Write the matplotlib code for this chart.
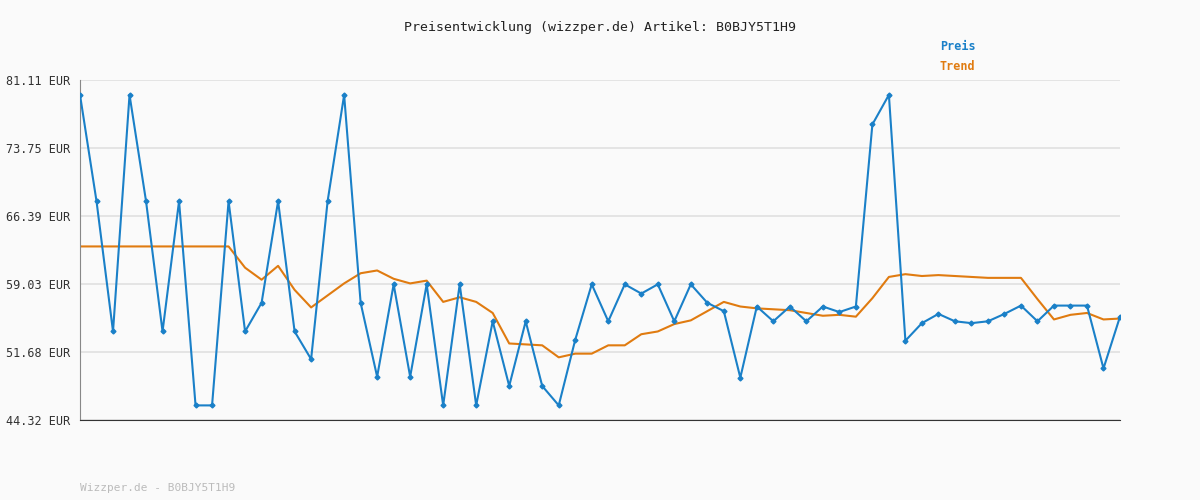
import matplotlib
matplotlib.use("Agg")
import matplotlib.pyplot as plt
import numpy as np

preis = [79.5,68.0,53.9,79.5,68.0,53.9,68.0,45.9,45.9,68.0,53.9,57.0,68.0,53.9,50.9,68.0,79.5,57.0,49.0,59.0,
         49.0,59.0,45.9,59.0,45.9,55.0,48.0,55.0,48.0,45.9,53.0,59.0,55.0,59.0,58.0,59.0,55.0,59.0,57.0,56.1,
         48.9,56.6,55.0,56.6,55.0,56.6,56.0,56.6,76.3,79.5,52.9,54.8,55.8,55.0,54.8,55.0,55.8,56.7,55.0,56.7,
         56.7,56.7,49.9,55.5]
trend = [63.1]*10 + [60.8,59.5,61.0,58.4,56.5,57.8,59.1,60.2,60.5,59.6,59.1,59.4,57.1,57.6,57.1,55.9,52.6,52.5,52.4,51.1,
         51.5,51.5,52.4,52.4,53.6,53.9,54.7,55.1,56.1,57.1,56.6,56.4,56.3,56.2,55.9,55.6,55.7,55.5,57.5,59.8,
         60.1,59.9,60.0,59.9,59.8,59.7,59.7,59.7,57.4,55.2,55.7,55.9,55.2,55.3]
yticks = [44.32, 51.68, 59.03, 66.39, 73.75, 81.11]
ylabels = [f"{v:.2f} EUR" for v in yticks]

mono = "DejaVu Sans Mono"
fig = plt.figure(figsize=(12, 5), dpi=100, facecolor="#fafafa")
ax = fig.add_axes([80/1200, 0.16, 1040/1200, 0.68], facecolor="#fafafa")
x = np.arange(len(preis))
ax.plot(x, trend, color="#e07b10", lw=1.5, zorder=2)
ax.plot(x, preis, color="#1a80c8", lw=1.5, marker="D", ms=2.5, zorder=3)
ax.set_xlim(0, len(preis)-1)
ax.set_ylim(44.32, 81.11)
ax.set_yticks(yticks)
ax.set_yticklabels(ylabels, fontsize=8.5, family=mono, color="#333333")
ax.set_xticks([])
ax.tick_params(axis="y", length=0, pad=7)
ax.grid(axis="y", color="#e0e0e0", lw=1.2)
ax.set_axisbelow(True)
for s in ["top", "right"]:
    ax.spines[s].set_visible(False)
ax.spines["left"].set_color("#888888")
ax.spines["bottom"].set_color("#333333")
fig.text(0.5, 1-28/500, "Preisentwicklung (wizzper.de) Artikel: B0BJY5T1H9", ha="center", va="center",
         fontsize=9.5, family=mono, color="#222222")
fig.text(940/1200, 1-47/500, "Preis", fontsize=8.5, family=mono, color="#1a80c8", fontweight="bold", va="center")
fig.text(940/1200, 1-67/500, "Trend", fontsize=8.5, family=mono, color="#e07b10", fontweight="bold", va="center")
fig.text(80/1200, 1-488/500, "Wizzper.de - B0BJY5T1H9", fontsize=8, family=mono, color="#bbbbbb", va="center")
fig.savefig("out.png", dpi=100, facecolor=fig.get_facecolor())
